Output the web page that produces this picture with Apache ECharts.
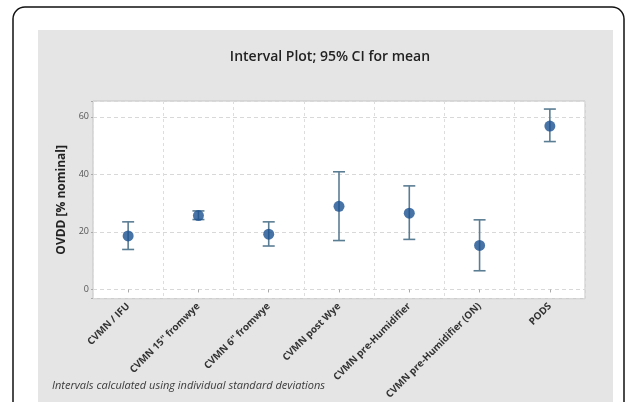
<!DOCTYPE html>
<html><head><meta charset="utf-8">
<script src="https://cdn.jsdelivr.net/npm/echarts@6/dist/echarts.min.js"></script>
<style>html,body{margin:0;padding:0;background:#fff}#c{width:637px;height:402px}</style>
</head><body><div id="c"></div>
<script>
const categories = ['CVMN / IFU', 'CVMN 15" fromwye', 'CVMN 6" fromwye', 'CVMN post Wye', 'CVMN pre-Humidifier', 'CVMN pre-Humidifier (ON)', 'PODS'];
const means = [18.6, 25.7, 19.2, 28.9, 26.5, 15.3, 56.8];
const lower = [13.9, 24.3, 15.1, 17.0, 17.4, 6.5, 51.4];
const upper = [23.5, 27.3, 23.5, 40.9, 36.0, 24.2, 62.7];
const yTicks = [0, 20, 40, 60];

const chart = echarts.init(document.getElementById('c'));
const barData = categories.map((c, i) => [i, lower[i], upper[i]]);
chart.setOption({
  animation: false,
  backgroundColor: '#fff',
  graphic: [
    {type: 'rect', z: -10, shape: {x: 13, y: 7, width: 611, height: 430, r: 12}, style: {fill: '#fff', stroke: '#111', lineWidth: 1.5}},
    {type: 'rect', z: -9, shape: {x: 38, y: 30, width: 575, height: 390}, style: {fill: '#e5e5e5'}},
    {type: 'text', left: 52, top: 380, style: {text: 'Intervals calculated using individual standard deviations', font: 'italic 11px "Open Sans"', fill: '#3a3a3a'}}
  ],
  title: {
    text: 'Interval Plot; 95% CI for mean', left: 325, top: 45, textAlign: 'center',
    textStyle: {fontFamily: 'Open Sans', fontSize: 14, fontWeight: 600, color: '#222'}
  },
  grid: {left: 93, right: 52, top: 101, bottom: 102, show: true, backgroundColor: '#fff', borderColor: '#c4c4c4', borderWidth: 1},
  xAxis: {
    type: 'category', data: categories, boundaryGap: true,
    axisLine: {show: false},
    axisTick: {show: true, alignWithLabel: true, length: 3, lineStyle: {color: '#aaa'}},
    axisLabel: {rotate: 45, interval: 0, fontFamily: 'Open Sans', fontSize: 9.8, fontWeight: 700, color: '#333', margin: 6},
    splitLine: {show: true, interval: 0, lineStyle: {color: '#ddd', type: [3, 3]}}
  },
  yAxis: {
    type: 'value', min: -3.2, max: 65.5, splitNumber: 3,
    name: 'OVDD [% nominal]', nameLocation: 'middle', nameGap: 24,
    nameTextStyle: {fontFamily: 'Open Sans', fontSize: 12, fontWeight: 700, color: '#222'},
    axisLine: {show: false},
    axisTick: {show: true, length: 2, lineStyle: {color: '#aaa'}},
    axisLabel: {fontFamily: 'Open Sans', fontSize: 9, color: '#555', margin: 4,
      formatter: v => yTicks.includes(Math.round(v * 100) / 100) ? String(v) : ''},
    splitLine: {show: true, lineStyle: {color: '#d8d8d8', type: [4, 3]}}
  },
  series: [
    {
      type: 'custom', data: barData, encode: {x: 0, y: [1, 2]}, z: 2,
      renderItem: function (params, api) {
        const lo = api.coord([api.value(0), api.value(1)]);
        const hi = api.coord([api.value(0), api.value(2)]);
        const w = 6;
        const st = {stroke: '#5b7d93', lineWidth: 1.6};
        return {type: 'group', children: [
          {type: 'line', shape: {x1: lo[0], y1: lo[1], x2: hi[0], y2: hi[1]}, style: st},
          {type: 'line', shape: {x1: lo[0] - w, y1: lo[1], x2: lo[0] + w, y2: lo[1]}, style: st},
          {type: 'line', shape: {x1: hi[0] - w, y1: hi[1], x2: hi[0] + w, y2: hi[1]}, style: st}
        ]};
      }
    },
    {
      type: 'scatter', data: means, symbol: 'circle', symbolSize: 11, z: 3,
      itemStyle: {color: '#1a5090'}
    }
  ]
});
</script></body></html>
